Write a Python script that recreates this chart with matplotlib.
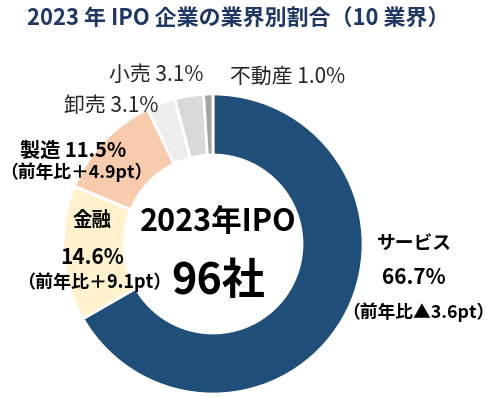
import matplotlib
matplotlib.use("Agg")
import matplotlib.pyplot as plt

plt.rcParams['font.family'] = ['Noto Sans CJK JP', 'DejaVu Sans']

# data
industries = ["サービス", "金融", "製造", "卸売", "小売", "不動産"]
shares = [66.7, 14.6, 11.5, 3.1, 3.1, 1.0]
yoy = ["▲3.6pt", "＋9.1pt", "＋4.9pt", None, None, None]
colors = ["#1F4E79", "#FFF2CC", "#F8CBAD", "#EDEDED", "#D9D9D9", "#A5A5A5"]
total_ipo = 96

W, H = 495, 397
fig = plt.figure(figsize=(W / 100, H / 100), dpi=100)
ax = fig.add_axes([0, 0, 1, 1])
ax.set_aspect("equal")
ax.axis("off")

def Y(y):
    # pixel row from top -> data y
    return H - y

cx, cy, R = 213, 244, 150
ax.pie(shares, colors=colors, startangle=90, counterclock=False,
       center=(cx, Y(cy)), radius=R,
       wedgeprops=dict(width=61, edgecolor="white", linewidth=2))
ax.set_xlim(0, W)
ax.set_ylim(0, H)

fig.text(27 / W, 1 - 19 / H, "2023 年 IPO 企業の業界別割合（10 業界）",
         fontsize=15.8, fontweight="bold", color="#1F3864",
         ha="left", va="center")

# center
ax.text(cx + 5, Y(222), "2023年IPO", fontsize=22, fontweight="bold",
        ha="center", va="center", color="black")
ax.text(cx + 5, Y(281), f"{total_ipo}社", fontsize=31, fontweight="bold",
        ha="center", va="center", color="black")

def lab(x, y, s, size=13.5):
    ax.text(x, Y(y), s, fontsize=size, fontweight="bold",
            ha="center", va="center", color="black")

def small(x, y, s):
    ax.text(x, Y(y), s, fontsize=15, ha="center", va="center", color="#262626")

# サービス
lab(414, 243, industries[0], 13.5)
lab(414, 278, f"{shares[0]}%", 15)
lab(418, 312, f"（前年比{yoy[0]}）", 12.8)

# 金融
lab(92, 220, industries[1], 14)
lab(92, 257, f"{shares[1]}%", 15)
lab(94, 282, f"（前年比{yoy[1]}）", 13)

# 製造
lab(73, 150, f"{industries[2]} {shares[2]}%", 14.5)
lab(76, 172, f"（前年比{yoy[2]}）", 12.8)

# 卸売, 小売, 不動産
small(111, 106, f"{industries[3]} {shares[3]}%")
small(156, 75, f"{industries[4]} {shares[4]}%")
small(288, 77, f"{industries[5]} {shares[5]}%")

fig.savefig("out.png", dpi=100, facecolor="white")
